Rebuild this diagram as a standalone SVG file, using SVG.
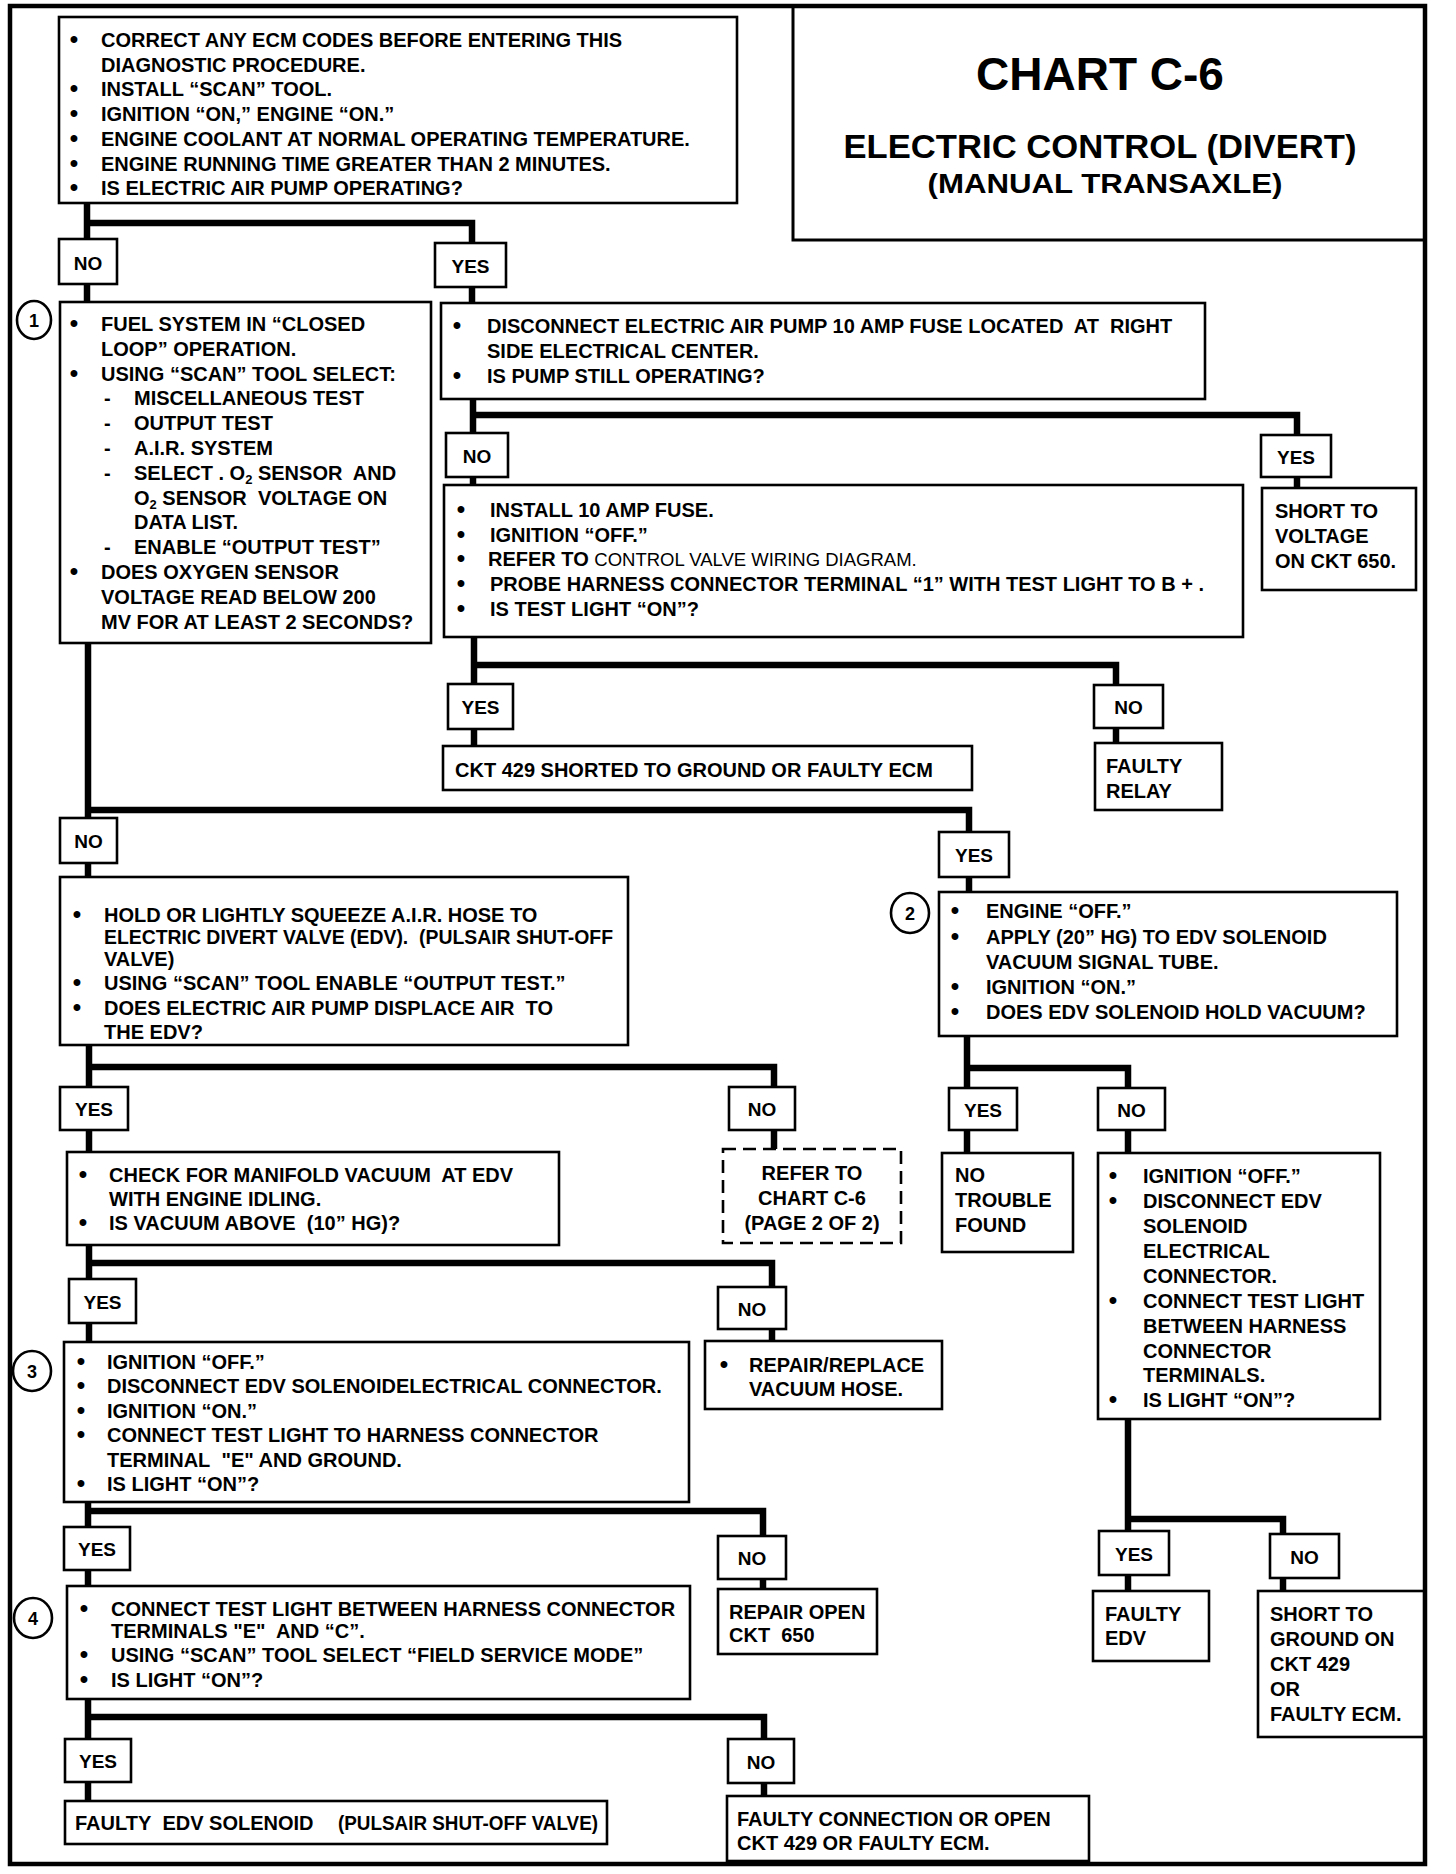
<svg xmlns="http://www.w3.org/2000/svg" width="1456" height="1874" viewBox="0 0 1456 1874">
<style>
.box{fill:#fff;stroke:#000;stroke-width:2.6}
.dash{fill:#fff;stroke:#000;stroke-width:2.6;stroke-dasharray:13 7}
.t{font-family:"Liberation Sans",Arial,sans-serif;font-weight:bold;font-size:20px;fill:#000}
.b{font-family:"Liberation Sans",Arial,sans-serif;font-weight:bold;font-size:24px;fill:#000;text-anchor:middle}
.yn{font-family:"Liberation Sans",Arial,sans-serif;font-weight:bold;font-size:19px;fill:#000;text-anchor:middle}
.c{text-anchor:middle}
.n{font-weight:normal;font-size:18.5px}
.ttl{font-family:"Liberation Sans",Arial,sans-serif;font-weight:bold;fill:#000;text-anchor:middle}
.num{font-family:"Liberation Sans",Arial,sans-serif;font-weight:bold;font-size:18px;fill:#000;text-anchor:middle}
.circ{fill:#fff;stroke:#000;stroke-width:2.6}
#connectors path{fill:none;stroke:#000;stroke-width:6.5}
</style>
<rect width="1456" height="1874" fill="#fff"/>
<g id="frame">
<rect x="10" y="6" width="1415" height="1858" fill="none" stroke="#000" stroke-width="4.5"/>
</g>
<g id="connectors">
<path d="M87,203 V239 M87,223 H472 V243"/>
<path d="M87,284 V302"/>
<path d="M472,287 V303"/>
<path d="M473,399 V433 M473,415 H1297 V435"/>
<path d="M473,477 V485"/>
<path d="M1297,477 V488"/>
<path d="M474,637 V684 M474,665 H1116 V685"/>
<path d="M474,729 V746"/>
<path d="M1116,728 V743"/>
<path d="M88,643 V818 M88,810 H969 V832"/>
<path d="M88,863 V877"/>
<path d="M969,877 V892"/>
<path d="M89,1045 V1087 M89,1067 H774 V1087"/>
<path d="M89,1130 V1152"/>
<path d="M774,1130 V1149"/>
<path d="M89,1245 V1279 M89,1263 H772 V1287"/>
<path d="M89,1323 V1342"/>
<path d="M772,1329 V1341"/>
<path d="M88,1502 V1527 M88,1511 H763 V1536"/>
<path d="M88,1570 V1586"/>
<path d="M763,1579 V1589"/>
<path d="M88,1699 V1739 M88,1717 H764 V1739"/>
<path d="M88,1782 V1801"/>
<path d="M764,1783 V1796"/>
<path d="M967,1036 V1088 M967,1068 H1128 V1088"/>
<path d="M967,1130 V1153"/>
<path d="M1128,1130 V1153"/>
<path d="M1128,1419 V1531 M1128,1519 H1283 V1534"/>
<path d="M1128,1575 V1591"/>
<path d="M1283,1578 V1591"/>
</g>

<g id="title">
<rect x="793" y="6" width="632" height="234" fill="none" stroke="#000" stroke-width="3"/>
<text class="ttl" x="1100" y="90" font-size="46">CHART C-6</text>
<text class="ttl" x="1100" y="158" font-size="33" textLength="513" lengthAdjust="spacingAndGlyphs">ELECTRIC CONTROL (DIVERT)</text>
<text class="ttl" x="1105" y="193" font-size="28" textLength="355" lengthAdjust="spacingAndGlyphs">(MANUAL TRANSAXLE)</text>
</g>

<g id="start">
<rect class="box" x="59" y="17" width="678" height="186"/>
<text class="b"><tspan x="74" y="47">•</tspan><tspan x="74" y="96.4">•</tspan><tspan x="74" y="121">•</tspan><tspan x="74" y="145.8">•</tspan><tspan x="74" y="170.5">•</tspan><tspan x="74" y="195">•</tspan></text>
<text class="t">
<tspan x="101" y="47">CORRECT ANY ECM CODES BEFORE ENTERING THIS</tspan>
<tspan x="101" y="71.7">DIAGNOSTIC PROCEDURE.</tspan>
<tspan x="101" y="96.4">INSTALL “SCAN” TOOL.</tspan>
<tspan x="101" y="121">IGNITION “ON,” ENGINE “ON.”</tspan>
<tspan x="101" y="145.8">ENGINE COOLANT AT NORMAL OPERATING TEMPERATURE.</tspan>
<tspan x="101" y="170.5">ENGINE RUNNING TIME GREATER THAN 2 MINUTES.</tspan>
<tspan x="101" y="195">IS ELECTRIC AIR PUMP OPERATING?</tspan>
</text>
</g>

<g id="lbl-no-1"><rect class="box" x="59" y="239" width="58" height="45"/><text class="yn" x="88" y="270">NO</text></g>
<g id="lbl-yes-1"><rect class="box" x="435" y="243" width="71" height="44"/><text class="yn" x="470.5" y="273">YES</text></g>

<g id="step1">
<ellipse class="circ" cx="34" cy="320" rx="17" ry="19"/>
<text class="num" x="34" y="327">1</text>
<rect class="box" x="60" y="302" width="371" height="341"/>
<text class="b"><tspan x="74" y="331">•</tspan><tspan x="74" y="380.6">•</tspan><tspan x="74" y="579">•</tspan></text>
<text class="t">
<tspan x="101" y="331">FUEL SYSTEM IN “CLOSED</tspan>
<tspan x="101" y="355.8">LOOP” OPERATION.</tspan>
<tspan x="101" y="380.6">USING “SCAN” TOOL SELECT:</tspan>
<tspan x="104" y="405.4">-</tspan><tspan x="134" y="405.4">MISCELLANEOUS TEST</tspan>
<tspan x="104" y="430.2">-</tspan><tspan x="134" y="430.2">OUTPUT TEST</tspan>
<tspan x="104" y="455">-</tspan><tspan x="134" y="455">A.I.R. SYSTEM</tspan>
<tspan x="104" y="479.8">-</tspan>
<tspan x="134" y="529.4">DATA LIST.</tspan>
<tspan x="104" y="554.2">-</tspan><tspan x="134" y="554.2">ENABLE “OUTPUT TEST”</tspan>
<tspan x="101" y="579">DOES OXYGEN SENSOR</tspan>
<tspan x="101" y="603.8">VOLTAGE READ BELOW 200</tspan>
<tspan x="101" y="628.6">MV FOR AT LEAST 2 SECONDS?</tspan>
</text>
<text class="t" x="134" y="479.8">SELECT . O<tspan font-size="13" dy="4">2</tspan><tspan dy="-4"> SENSOR&#160; AND</tspan></text>
<text class="t" x="134" y="504.6">O<tspan font-size="13" dy="4">2</tspan><tspan dy="-4"> SENSOR&#160; VOLTAGE ON</tspan></text>
</g>

<g id="step-fuse">
<rect class="box" x="441" y="303" width="764" height="96"/>
<text class="b"><tspan x="457" y="333">•</tspan><tspan x="457" y="382.7">•</tspan></text>
<text class="t">
<tspan x="487" y="333">DISCONNECT ELECTRIC AIR PUMP 10 AMP FUSE LOCATED&#160; AT&#160; RIGHT</tspan>
<tspan x="487" y="358">SIDE ELECTRICAL CENTER.</tspan>
<tspan x="487" y="382.7">IS PUMP STILL OPERATING?</tspan>
</text>
</g>

<g id="lbl-no-2"><rect class="box" x="446" y="433" width="62" height="44"/><text class="yn" x="477" y="463">NO</text></g>
<g id="lbl-yes-2"><rect class="box" x="1261" y="435" width="70" height="42"/><text class="yn" x="1296" y="464">YES</text></g>

<g id="short-voltage">
<rect class="box" x="1262" y="488" width="154" height="102"/>
<text class="t"><tspan x="1275" y="518">SHORT TO</tspan><tspan x="1275" y="543">VOLTAGE</tspan><tspan x="1275" y="568">ON CKT 650.</tspan></text>
</g>

<g id="step-install">
<rect class="box" x="444" y="485" width="799" height="152"/>
<text class="b"><tspan x="461" y="516.7">•</tspan><tspan x="461" y="541.5">•</tspan><tspan x="461" y="566.2">•</tspan><tspan x="461" y="591">•</tspan><tspan x="461" y="615.7">•</tspan></text>
<text class="t">
<tspan x="490" y="516.7">INSTALL 10 AMP FUSE.</tspan>
<tspan x="490" y="541.5">IGNITION “OFF.”</tspan>
<tspan x="488" y="566.2">REFER TO <tspan class="n">CONTROL VALVE WIRING DIAGRAM.</tspan></tspan>
<tspan x="490" y="591">PROBE HARNESS CONNECTOR TERMINAL “1” WITH TEST LIGHT TO B + .</tspan>
<tspan x="490" y="615.7">IS TEST LIGHT “ON”?</tspan>
</text>
</g>

<g id="lbl-yes-3"><rect class="box" x="448" y="684" width="65" height="45"/><text class="yn" x="480.5" y="714">YES</text></g>
<g id="lbl-no-3"><rect class="box" x="1094" y="685" width="69" height="43"/><text class="yn" x="1128.5" y="714">NO</text></g>

<g id="ckt429-ecm">
<rect class="box" x="443" y="746" width="529" height="44"/>
<text class="t" x="455" y="776.7">CKT 429 SHORTED TO GROUND OR FAULTY ECM</text>
</g>

<g id="faulty-relay">
<rect class="box" x="1095" y="743" width="127" height="67"/>
<text class="t"><tspan x="1106" y="773">FAULTY</tspan><tspan x="1106" y="798">RELAY</tspan></text>
</g>

<g id="lbl-no-4"><rect class="box" x="60" y="818" width="57" height="45"/><text class="yn" x="88.5" y="848">NO</text></g>
<g id="lbl-yes-4"><rect class="box" x="939" y="832" width="70" height="45"/><text class="yn" x="974" y="862">YES</text></g>

<g id="step-hose">
<rect class="box" x="60" y="877" width="568" height="168"/>
<text class="b"><tspan x="77" y="922">•</tspan><tspan x="77" y="990">•</tspan><tspan x="77" y="1015">•</tspan></text>
<text class="t">
<tspan x="104" y="922">HOLD OR LIGHTLY SQUEEZE A.I.R. HOSE TO</tspan>
<tspan x="104" y="966">VALVE)</tspan>
<tspan x="104" y="990">USING “SCAN” TOOL ENABLE “OUTPUT TEST.”</tspan>
<tspan x="104" y="1015">DOES ELECTRIC AIR PUMP DISPLACE AIR&#160; TO</tspan>
<tspan x="104" y="1039">THE EDV?</tspan>
</text>
<text class="t" x="104" y="944" textLength="509" lengthAdjust="spacingAndGlyphs">ELECTRIC DIVERT VALVE (EDV).&#160; (PULSAIR SHUT-OFF</text>
</g>

<g id="step2">
<ellipse class="circ" cx="910" cy="913" rx="19" ry="20"/>
<text class="num" x="910" y="920">2</text>
<rect class="box" x="939" y="892" width="458" height="144"/>
<text class="b"><tspan x="955" y="918">•</tspan><tspan x="955" y="943.5">•</tspan><tspan x="955" y="994">•</tspan><tspan x="955" y="1019">•</tspan></text>
<text class="t">
<tspan x="986" y="918">ENGINE “OFF.”</tspan>
<tspan x="986" y="943.5">APPLY (20” HG) TO EDV SOLENOID</tspan>
<tspan x="986" y="969">VACUUM SIGNAL TUBE.</tspan>
<tspan x="986" y="994">IGNITION “ON.”</tspan>
<tspan x="986" y="1019">DOES EDV SOLENOID HOLD VACUUM?</tspan>
</text>
</g>

<g id="lbl-yes-5"><rect class="box" x="60" y="1087" width="68" height="43"/><text class="yn" x="94" y="1116">YES</text></g>
<g id="lbl-no-5"><rect class="box" x="729" y="1087" width="66" height="43"/><text class="yn" x="762" y="1116">NO</text></g>
<g id="lbl-yes-6"><rect class="box" x="949" y="1088" width="68" height="42"/><text class="yn" x="983" y="1117">YES</text></g>
<g id="lbl-no-6"><rect class="box" x="1098" y="1088" width="67" height="42"/><text class="yn" x="1131.5" y="1117">NO</text></g>

<g id="step-vacuum">
<rect class="box" x="67" y="1152" width="492" height="93"/>
<text class="b"><tspan x="83" y="1182">•</tspan><tspan x="83" y="1230">•</tspan></text>
<text class="t">
<tspan x="109" y="1182">CHECK FOR MANIFOLD VACUUM&#160; AT EDV</tspan>
<tspan x="109" y="1206">WITH ENGINE IDLING.</tspan>
<tspan x="109" y="1230">IS VACUUM ABOVE&#160; (10” HG)?</tspan>
</text>
</g>

<g id="refer-chart">
<rect class="dash" x="723" y="1149" width="178" height="94"/>
<text class="t c"><tspan x="812" y="1180">REFER TO</tspan><tspan x="812" y="1205">CHART C-6</tspan><tspan x="812" y="1230">(PAGE 2 OF 2)</tspan></text>
</g>

<g id="no-trouble">
<rect class="box" x="942" y="1153" width="131" height="99"/>
<text class="t"><tspan x="955" y="1182">NO</tspan><tspan x="955" y="1207">TROUBLE</tspan><tspan x="955" y="1232">FOUND</tspan></text>
</g>

<g id="step-edv-connector">
<rect class="box" x="1098" y="1153" width="282" height="266"/>
<text class="b"><tspan x="1113" y="1183">•</tspan><tspan x="1113" y="1208">•</tspan><tspan x="1113" y="1308">•</tspan><tspan x="1113" y="1407">•</tspan></text>
<text class="t">
<tspan x="1143" y="1183">IGNITION “OFF.”</tspan>
<tspan x="1143" y="1208">DISCONNECT EDV</tspan>
<tspan x="1143" y="1233">SOLENOID</tspan>
<tspan x="1143" y="1258">ELECTRICAL</tspan>
<tspan x="1143" y="1283">CONNECTOR.</tspan>
<tspan x="1143" y="1308">CONNECT TEST LIGHT</tspan>
<tspan x="1143" y="1333">BETWEEN HARNESS</tspan>
<tspan x="1143" y="1358">CONNECTOR</tspan>
<tspan x="1143" y="1382">TERMINALS.</tspan>
<tspan x="1143" y="1407">IS LIGHT “ON”?</tspan>
</text>
</g>

<g id="lbl-yes-7"><rect class="box" x="69" y="1279" width="67" height="44"/><text class="yn" x="102.5" y="1309">YES</text></g>
<g id="lbl-no-7"><rect class="box" x="718" y="1287" width="68" height="42"/><text class="yn" x="752" y="1316">NO</text></g>

<g id="step3">
<ellipse class="circ" cx="32" cy="1371" rx="19" ry="20"/>
<text class="num" x="32" y="1378">3</text>
<rect class="box" x="64" y="1342" width="625" height="160"/>
<text class="b"><tspan x="81" y="1369">•</tspan><tspan x="81" y="1393">•</tspan><tspan x="81" y="1418">•</tspan><tspan x="81" y="1442">•</tspan><tspan x="81" y="1491">•</tspan></text>
<text class="t">
<tspan x="107" y="1369">IGNITION “OFF.”</tspan>
<tspan x="107" y="1393">DISCONNECT EDV SOLENOIDELECTRICAL CONNECTOR.</tspan>
<tspan x="107" y="1418">IGNITION “ON.”</tspan>
<tspan x="107" y="1442">CONNECT TEST LIGHT TO HARNESS CONNECTOR</tspan>
<tspan x="107" y="1467">TERMINAL&#160; "E" AND GROUND.</tspan>
<tspan x="107" y="1491">IS LIGHT “ON”?</tspan>
</text>
</g>

<g id="repair-hose">
<rect class="box" x="705" y="1341" width="237" height="68"/>
<text class="b"><tspan x="724" y="1371.7">•</tspan></text>
<text class="t"><tspan x="749" y="1371.7">REPAIR/REPLACE</tspan><tspan x="749" y="1396">VACUUM HOSE.</tspan></text>
</g>

<g id="lbl-yes-8"><rect class="box" x="64" y="1527" width="66" height="43"/><text class="yn" x="97" y="1556">YES</text></g>
<g id="lbl-no-8"><rect class="box" x="718" y="1536" width="68" height="43"/><text class="yn" x="752" y="1565">NO</text></g>
<g id="lbl-yes-9"><rect class="box" x="1099" y="1531" width="70" height="44"/><text class="yn" x="1134" y="1561">YES</text></g>
<g id="lbl-no-9"><rect class="box" x="1270" y="1534" width="69" height="44"/><text class="yn" x="1304.5" y="1564">NO</text></g>

<g id="repair-open">
<rect class="box" x="718" y="1589" width="159" height="65"/>
<text class="t"><tspan x="729" y="1619">REPAIR OPEN</tspan><tspan x="729" y="1642">CKT&#160; 650</tspan></text>
</g>

<g id="step4">
<ellipse class="circ" cx="33" cy="1618" rx="19" ry="20"/>
<text class="num" x="33" y="1625">4</text>
<rect class="box" x="67" y="1586" width="623" height="113"/>
<text class="b"><tspan x="84" y="1616">•</tspan><tspan x="84" y="1662">•</tspan><tspan x="84" y="1687">•</tspan></text>
<text class="t">
<tspan x="111" y="1616">CONNECT TEST LIGHT BETWEEN HARNESS CONNECTOR</tspan>
<tspan x="111" y="1638">TERMINALS "E"&#160; AND “C”.</tspan>
<tspan x="111" y="1662">USING “SCAN” TOOL SELECT “FIELD SERVICE MODE”</tspan>
<tspan x="111" y="1687">IS LIGHT “ON”?</tspan>
</text>
</g>

<g id="faulty-edv">
<rect class="box" x="1093" y="1591" width="116" height="70"/>
<text class="t"><tspan x="1105" y="1621">FAULTY</tspan><tspan x="1105" y="1645">EDV</tspan></text>
</g>

<g id="short-ground">
<rect class="box" x="1258" y="1591" width="166" height="146"/>
<text class="t"><tspan x="1270" y="1621">SHORT TO</tspan><tspan x="1270" y="1646">GROUND ON</tspan><tspan x="1270" y="1671">CKT 429</tspan><tspan x="1270" y="1696">OR</tspan><tspan x="1270" y="1721">FAULTY ECM.</tspan></text>
</g>

<g id="lbl-yes-10"><rect class="box" x="65" y="1739" width="66" height="43"/><text class="yn" x="98" y="1768">YES</text></g>
<g id="lbl-no-10"><rect class="box" x="728" y="1739" width="66" height="44"/><text class="yn" x="761" y="1769">NO</text></g>

<g id="faulty-solenoid">
<rect class="box" x="65" y="1801" width="542" height="43"/>
<text class="t" x="75" y="1830">FAULTY&#160; EDV SOLENOID</text>
<text class="t" x="338" y="1830" textLength="260" lengthAdjust="spacingAndGlyphs">(PULSAIR SHUT-OFF VALVE)</text>
</g>

<g id="faulty-connection">
<rect class="box" x="727" y="1796" width="362" height="65"/>
<text class="t"><tspan x="737" y="1826">FAULTY CONNECTION OR OPEN</tspan><tspan x="737" y="1850">CKT 429 OR FAULTY ECM.</tspan></text>
</g>
</svg>
